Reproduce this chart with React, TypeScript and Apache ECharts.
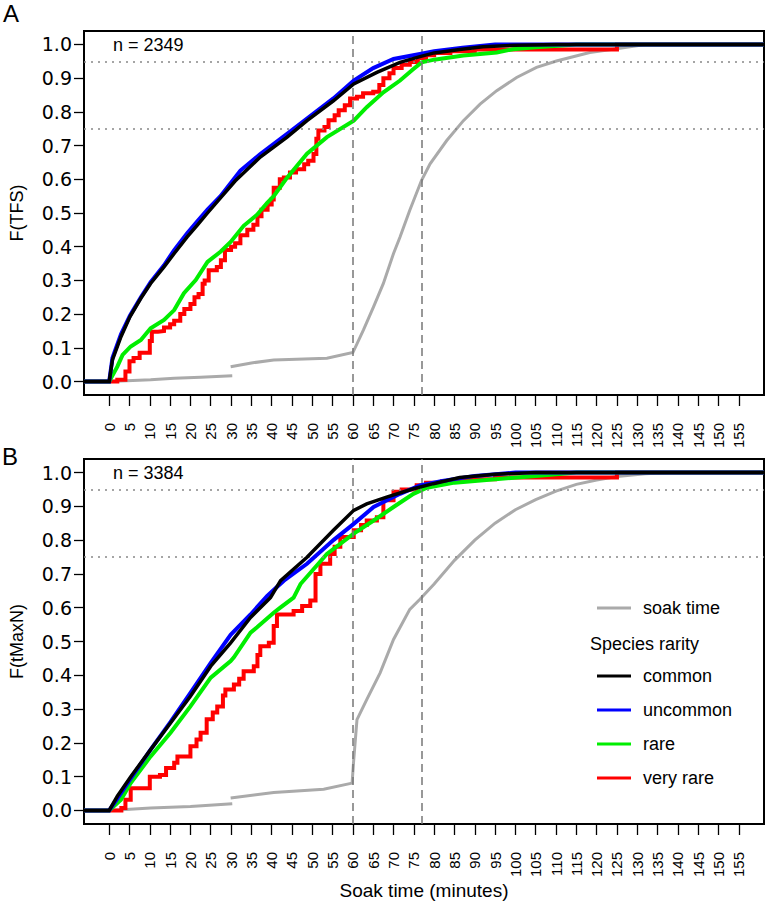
import React, { useEffect, useRef } from "react";
import * as echarts from "echarts";

const FONT = "Liberation Sans, Arial, Helvetica, sans-serif";

const xTicks = [0, 5, 10, 15, 20, 25, 30, 35, 40, 45, 50, 55, 60, 65, 70, 75, 80, 85, 90, 95, 100, 105, 110, 115, 120, 125, 130, 135, 140, 145, 150, 155];
const yTicks = [0, 0.1, 0.2, 0.3, 0.4, 0.5, 0.6, 0.7, 0.8, 0.9, 1.0];
const yTickLabels = ["0.0", "0.1", "0.2", "0.3", "0.4", "0.5", "0.6", "0.7", "0.8", "0.9", "1.0"];
const xRange = [-6.2, 161.2];
const yRange = [-0.04, 1.04];
const refLinesX = [60, 77];
const refLinesY = [0.75, 0.95];
const sampleSizes = ["n = 2349", "n = 3384"];
const panelLetters = ["A", "B"];
const yTitles = ["F(TFS)", "F(tMaxN)"];
const xTitle = "Soak time (minutes)";

const seriesColors = { "soak time": "#aaaaaa", "very rare": "#ff0000", rare: "#00ee00", uncommon: "#0000ff", common: "#000000" };

// Panel A (time to first sighting)
const soakA1 = [[0, 0], [10.2, 0.005], [16, 0.01], [22.5, 0.013], [30.3, 0.017]];
const soakA2 = [[29.9, 0.044], [35, 0.055], [40.5, 0.064], [53.6, 0.069], [60, 0.086], [62.6, 0.153], [65.1, 0.222], [67.5, 0.291], [70, 0.38], [71.6, 0.429], [74, 0.508], [76.9, 0.597], [79, 0.646], [83.1, 0.715], [87.2, 0.774], [91.3, 0.823], [95.4, 0.863], [100.3, 0.902], [105.2, 0.932], [110.1, 0.951], [118.3, 0.976], [124, 0.986], [132, 1.0], [161.2, 1.0]];
const veryRareA = [[-6.2, 0], [2, 0.005], [4, 0.03], [5, 0.06], [6, 0.07], [7.5, 0.085], [10, 0.12], [10.5, 0.148], [12, 0.15], [13.5, 0.16], [15, 0.17], [16, 0.18], [17.5, 0.2], [18.5, 0.215], [20, 0.23], [21, 0.25], [22, 0.26], [23, 0.29], [23.5, 0.3], [24.5, 0.33], [26.5, 0.34], [27.5, 0.36], [28.5, 0.39], [30, 0.4], [31, 0.41], [32.3, 0.434], [34, 0.45], [35.5, 0.465], [36.5, 0.49], [37.5, 0.51], [39, 0.525], [40, 0.54], [40.5, 0.575], [42, 0.6], [43, 0.605], [44.5, 0.62], [46, 0.63], [48, 0.645], [49, 0.655], [50.3, 0.675], [51, 0.72], [51.5, 0.745], [53, 0.755], [54, 0.775], [55.5, 0.79], [56.5, 0.805], [58, 0.82], [59.3, 0.84], [61, 0.845], [62.5, 0.855], [65, 0.86], [66.5, 0.88], [67.5, 0.9], [69, 0.915], [70, 0.93], [72, 0.94], [74, 0.948], [76, 0.96], [78, 0.968], [80, 0.975], [84, 0.98], [90, 0.985], [125, 1.0], [161.2, 1.0]];
const rareA = [[-6.2, 0], [0, 0], [2, 0.044], [3.3, 0.079], [5.3, 0.104], [7.8, 0.123], [10.2, 0.158], [13.5, 0.183], [16, 0.212], [18.4, 0.262], [21.3, 0.301], [24.2, 0.355], [27.4, 0.385], [29.9, 0.414], [33.1, 0.462], [36.4, 0.495], [38.9, 0.53], [40.5, 0.55], [43.8, 0.605], [48.7, 0.676], [53.6, 0.725], [60.2, 0.774], [63.4, 0.814], [67.5, 0.858], [71.6, 0.893], [74.9, 0.927], [76.9, 0.947], [80, 0.955], [87.2, 0.967], [95.4, 0.976], [99.4, 0.986], [105, 0.992], [115, 1.0], [161.2, 1.0]];
const uncommonA = [[-6.2, 0], [0, 0], [0.8, 0.07], [2.9, 0.14], [5.1, 0.195], [7.8, 0.25], [10.2, 0.295], [13.5, 0.345], [16, 0.39], [19.2, 0.44], [21.7, 0.475], [24.2, 0.51], [27.4, 0.55], [32.3, 0.626], [37.2, 0.675], [43.8, 0.735], [48.7, 0.78], [55.2, 0.84], [60.2, 0.893], [65, 0.93], [70, 0.957], [76.5, 0.972], [80, 0.98], [87, 0.99], [95, 1.0], [161.2, 1.0]];
const commonA = [[-6.2, 0], [0, 0], [0.8, 0.064], [2.9, 0.133], [5.1, 0.192], [7.8, 0.247], [10.2, 0.291], [13.5, 0.34], [16, 0.38], [19.2, 0.429], [21.7, 0.464], [24.2, 0.5], [27.4, 0.545], [31, 0.595], [37.2, 0.666], [43.8, 0.725], [48.7, 0.774], [55.2, 0.833], [60.2, 0.883], [65.9, 0.917], [71.6, 0.947], [76.5, 0.964], [80, 0.975], [86.3, 0.985], [92, 0.993], [100, 0.998], [110, 1.0], [161.2, 1.0]];

// Panel B (time to MaxN)
const soakB1 = [[0, 0], [10.2, 0.007], [20, 0.012], [30.3, 0.02]];
const soakB2 = [[29.9, 0.037], [40.5, 0.053], [52.8, 0.063], [59.8, 0.081], [60.2, 0.15], [61, 0.269], [63.4, 0.328], [66.7, 0.407], [70, 0.506], [74, 0.595], [76.5, 0.625], [80, 0.67], [85, 0.74], [90, 0.8], [95, 0.85], [100, 0.89], [105, 0.92], [110, 0.945], [115, 0.965], [120, 0.978], [125, 0.988], [132, 0.996], [138, 1.0], [161.2, 1.0]];
const veryRareB = [[-6.2, 0], [3, 0.007], [4, 0.032], [5.3, 0.066], [10, 0.1], [12.5, 0.105], [14, 0.126], [16, 0.141], [16.8, 0.16], [20, 0.19], [21.5, 0.21], [22.5, 0.23], [24, 0.27], [25.5, 0.29], [26.6, 0.308], [28, 0.34], [28.6, 0.358], [30.7, 0.373], [32, 0.39], [33.1, 0.412], [35.6, 0.427], [36.5, 0.46], [37.2, 0.486], [39.3, 0.496], [40.5, 0.546], [41.3, 0.58], [45.4, 0.59], [47.5, 0.605], [49.5, 0.621], [50.8, 0.7], [52, 0.73], [54.4, 0.759], [55.5, 0.78], [56.9, 0.809], [60.2, 0.829], [62, 0.845], [63.4, 0.858], [65.9, 0.868], [67.5, 0.918], [70, 0.943], [72, 0.95], [75.7, 0.962], [78, 0.97], [82, 0.975], [88, 0.98], [95, 0.985], [125, 1.0], [161.2, 1.0]];
const rareB = [[-6.2, 0], [0, 0], [2.9, 0.032], [5.3, 0.081], [10.2, 0.16], [15.1, 0.23], [20, 0.308], [25, 0.393], [29.9, 0.442], [30.7, 0.453], [34.8, 0.526], [36.4, 0.542], [40.5, 0.585], [42.2, 0.601], [45.4, 0.63], [47.1, 0.67], [53.6, 0.759], [60.2, 0.819], [65.1, 0.858], [70, 0.898], [74.9, 0.937], [78.2, 0.955], [85, 0.97], [95, 0.98], [105, 0.99], [115, 1.0], [161.2, 1.0]];
const uncommonB = [[-6.2, 0], [0, 0], [2, 0.035], [5.3, 0.095], [10.2, 0.18], [15.1, 0.262], [20, 0.348], [25, 0.437], [29.9, 0.52], [34.8, 0.58], [38.9, 0.635], [43, 0.68], [48.7, 0.73], [55.2, 0.8], [60.2, 0.848], [65.1, 0.898], [71.6, 0.937], [76.5, 0.962], [82, 0.975], [90, 0.99], [100, 1.0], [161.2, 1.0]];
const commonB = [[-6.2, 0], [0, 0], [2, 0.042], [5.3, 0.1], [10.2, 0.18], [15.1, 0.259], [20, 0.338], [25, 0.427], [29.9, 0.496], [34.8, 0.571], [39.7, 0.63], [42.2, 0.68], [48.7, 0.749], [55.2, 0.829], [60.2, 0.888], [63.4, 0.907], [68.3, 0.927], [74.9, 0.952], [79.8, 0.967], [86.3, 0.985], [95, 0.995], [105, 1.0], [161.2, 1.0]];

const panels = [
  { soak: [soakA1, soakA2], veryRare: veryRareA, rare: rareA, uncommon: uncommonA, common: commonA },
  { soak: [soakB1, soakB2], veryRare: veryRareB, rare: rareB, uncommon: uncommonB, common: commonB },
];

const gridBoxes = [
  { left: 83, top: 31, width: 681, height: 364 },
  { left: 83, top: 459, width: 681, height: 365 },
];

function lineSeries(name: string, data: number[][], idx: number, width: number, z: number, step?: string) {
  const color = (seriesColors as any)[name];
  return {
    type: "line",
    name,
    data,
    xAxisIndex: idx,
    yAxisIndex: idx,
    symbol: "none",
    showSymbol: false,
    step: step || false,
    z,
    lineStyle: { color, width, cap: "butt", join: "miter" },
    itemStyle: { color },
    emphasis: { disabled: true },
  };
}

function buildOption() {
  const series: any[] = [];
  panels.forEach((p, i) => {
    const s1: any = lineSeries("soak time", p.soak[0], i, 3, 2);
    s1.markLine = {
      silent: true,
      symbol: "none",
      label: { show: false },
      data: [
        ...refLinesY.map((v) => ({ yAxis: v, lineStyle: { color: "#888888", type: [2, 5], width: 1.5 } })),
        ...refLinesX.map((v) => ({ xAxis: v, lineStyle: { color: "#777777", type: [8, 5], width: 1.5 } })),
      ],
    };
    series.push(s1);
    series.push(lineSeries("soak time", p.soak[1], i, 3, 2));
    series.push(lineSeries("very rare", p.veryRare, i, 4, 3, "end"));
    series.push(lineSeries("rare", p.rare, i, 4, 4));
    series.push(lineSeries("uncommon", p.uncommon, i, 4, 5));
    series.push(lineSeries("common", p.common, i, 3.5, 6));
  });

  const xAxis = gridBoxes.map((_, i) => ({
    type: "value",
    gridIndex: i,
    min: xRange[0],
    max: xRange[1],
    name: i === 1 ? xTitle : "",
    nameLocation: "middle",
    nameGap: 57,
    nameTextStyle: { fontSize: 19, fontFamily: FONT, color: "#000" },
    axisLine: { show: false, onZero: false },
    splitLine: { show: false },
    axisTick: { show: true, length: 11, customValues: xTicks, lineStyle: { color: "#000", width: 1.3 } },
    axisLabel: {
      show: true,
      customValues: xTicks,
      rotate: 90,
      margin: 28,
      fontSize: 15,
      fontFamily: FONT,
      color: "#000",
      formatter: (v: number) => String(v),
    },
  }));

  const yAxis = gridBoxes.map((_, i) => ({
    type: "value",
    gridIndex: i,
    min: yRange[0],
    max: yRange[1],
    name: yTitles[i],
    nameLocation: "middle",
    nameGap: 58,
    nameRotate: 90,
    nameTextStyle: { fontSize: 18, fontFamily: FONT, color: "#000" },
    axisLine: { show: false, onZero: false },
    splitLine: { show: false },
    axisTick: { show: true, length: 10, customValues: yTicks, lineStyle: { color: "#000", width: 1.3 } },
    axisLabel: {
      show: true,
      customValues: yTicks,
      margin: 12,
      fontSize: 19,
      fontFamily: "DejaVu Sans, " + FONT,
      color: "#000",
      formatter: (v: number) => yTickLabels[Math.round(v * 10)] ?? "",
    },
  }));

  const graphic: any[] = [];
  gridBoxes.forEach((g, i) => {
    graphic.push({
      type: "text",
      left: i === 0 ? 3 : 2,
      top: i === 0 ? 1 : 444,
      style: { text: panelLetters[i], fontSize: 24, fontFamily: FONT, fill: "#000" },
    });
    graphic.push({
      type: "text",
      left: 113,
      top: g.top + 5,
      style: { text: sampleSizes[i], fontSize: 18, fontFamily: FONT, fill: "#000" },
    });
  });
  graphic.push({
    type: "text",
    left: 590,
    top: 635,
    style: { text: "Species rarity", fontSize: 18, fontFamily: FONT, fill: "#000" },
  });

  const legendText = { fontSize: 18, fontFamily: FONT, color: "#000", padding: [0, 0, 0, 7] };
  const lineIcon = "path://M0,0 L34,0 L34,3 L0,3 Z";
  const legend = [
    {
      data: ["soak time"],
      left: 592,
      top: 594,
      orient: "vertical",
      icon: lineIcon,
      itemWidth: 34,
      itemHeight: 20,
      selectedMode: false,
      textStyle: legendText,
    },
    {
      data: ["common", "uncommon", "rare", "very rare"],
      left: 592,
      top: 662,
      orient: "vertical",
      icon: lineIcon,
      itemWidth: 34,
      itemHeight: 20,
      itemGap: 16,
      selectedMode: false,
      textStyle: legendText,
    },
  ];

  return {
    animation: false,
    backgroundColor: "#ffffff",
    grid: gridBoxes.map((g) => ({ ...g, show: true, borderColor: "#000", borderWidth: 2, backgroundColor: "transparent", containLabel: false })),
    xAxis,
    yAxis,
    legend,
    graphic,
    series,
  };
}

export default function App() {
  const ref = useRef<HTMLDivElement>(null);
  useEffect(() => {
    const chart = echarts.init(ref.current!, null, { renderer: "svg" });
    chart.setOption(buildOption() as any);
    return () => chart.dispose();
  }, []);
  return <div ref={ref} style={{ position: "absolute", left: 0, top: 0, width: 766, height: 909 }} />;
}
